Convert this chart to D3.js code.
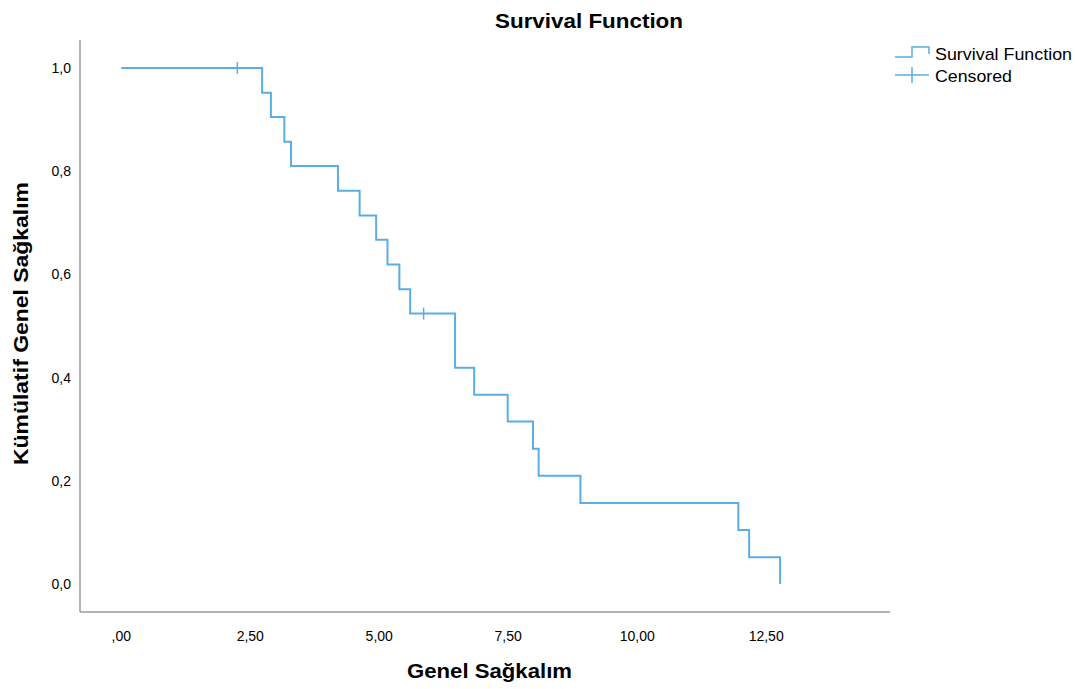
<!DOCTYPE html>
<html>
<head>
<meta charset="utf-8">
<script src="https://d3js.org/d3.v7.min.js"></script>
<style>
  body { margin: 0; background: #fff; }
  text { font-family: "Liberation Sans", Arial, sans-serif; fill: #000; }
</style>
</head>
<body>
<script>
// Kaplan-Meier estimate
const times    = [0, 2.73, 2.90, 3.16, 3.29, 4.20, 4.62, 4.94, 5.16, 5.39, 5.60, 6.47, 6.84, 7.49, 7.98, 8.09, 8.90, 11.96, 12.17, 12.77];
const survival = [1, 0.952, 0.905, 0.857, 0.810, 0.762, 0.714, 0.667, 0.619, 0.571, 0.524, 0.419, 0.367, 0.315, 0.262, 0.210, 0.157, 0.105, 0.052, 0];
const censoredTimes = [2.25, 5.86];
const censoredSurv  = [1, 0.524];
const xTicks = [0, 2.5, 5, 7.5, 10, 12.5];
const xTickLabels = [",00", "2,50", "5,00", "7,50", "10,00", "12,50"];
const yTicks = [0, 0.2, 0.4, 0.6, 0.8, 1.0];
const yTickLabels = ["0,0", "0,2", "0,4", "0,6", "0,8", "1,0"];

const width = 1075, height = 689;
const lineColor = "#5aaee3";
const axisColor = "#9a9a9a";

const svg = d3.select("body").append("svg")
    .attr("width", width)
    .attr("height", height);

const x = d3.scaleLinear().domain([-0.8, 14.9]).range([80, 890]);
const y = d3.scaleLinear().domain([-0.054, 1.054]).range([612, 40]);

// axes (no tick marks, just labels)
svg.append("line")
    .attr("x1", x(-0.8)).attr("x2", x(-0.8))
    .attr("y1", y(1.054)).attr("y2", y(-0.054))
    .attr("stroke", axisColor).attr("stroke-width", 1.5);
svg.append("line")
    .attr("x1", x(-0.8)).attr("x2", x(14.9))
    .attr("y1", y(-0.054)).attr("y2", y(-0.054))
    .attr("stroke", axisColor).attr("stroke-width", 1.5);

svg.append("g").selectAll("text")
    .data(xTicks)
    .join("text")
    .attr("x", d => x(d))
    .attr("y", 641)
    .attr("text-anchor", "middle")
    .style("font-size", "14px")
    .text((d, i) => xTickLabels[i]);

svg.append("g").selectAll("text")
    .data(yTicks)
    .join("text")
    .attr("x", 71)
    .attr("y", d => y(d) + 5)
    .attr("text-anchor", "end")
    .style("font-size", "14px")
    .text((d, i) => yTickLabels[i]);

// survival step line
const pts = times.map((t, i) => [t, survival[i]]);
const line = d3.line()
    .x(d => x(d[0]))
    .y(d => y(d[1]))
    .curve(d3.curveStepAfter);

svg.append("path")
    .datum(pts)
    .attr("d", line)
    .attr("fill", "none")
    .attr("stroke", lineColor)
    .attr("stroke-width", 2);

// censored marks
svg.append("g").selectAll("line")
    .data(censoredTimes)
    .join("line")
    .attr("x1", d => x(d)).attr("x2", d => x(d))
    .attr("y1", (d, i) => y(censoredSurv[i]) - 6)
    .attr("y2", (d, i) => y(censoredSurv[i]) + 6)
    .attr("stroke", lineColor)
    .attr("stroke-width", 1.5);

// titles
svg.append("text")
    .attr("x", 495).attr("y", 28)
    .attr("textLength", 188).attr("lengthAdjust", "spacingAndGlyphs")
    .style("font-size", "20px").style("font-weight", "bold")
    .text("Survival Function");

svg.append("text")
    .attr("x", 407).attr("y", 678)
    .attr("textLength", 165).attr("lengthAdjust", "spacingAndGlyphs")
    .style("font-size", "21px").style("font-weight", "bold")
    .text("Genel Sağkalım");

svg.append("text")
    .attr("transform", "translate(28,465) rotate(-90)")
    .attr("textLength", 283).attr("lengthAdjust", "spacingAndGlyphs")
    .style("font-size", "21px").style("font-weight", "bold")
    .text("Kümülatif Genel Sağkalım");

// legend
const lg = svg.append("g");
lg.append("path")
    .attr("d", "M895,57 H912 V47 H929 V54")
    .attr("fill", "none")
    .attr("stroke", lineColor)
    .attr("stroke-width", 1.5);
lg.append("text")
    .attr("x", 935).attr("y", 60)
    .attr("textLength", 137).attr("lengthAdjust", "spacingAndGlyphs")
    .style("font-size", "17px")
    .text("Survival Function");
lg.append("line")
    .attr("x1", 895).attr("x2", 929)
    .attr("y1", 75).attr("y2", 75)
    .attr("stroke", lineColor).attr("stroke-width", 1.5);
lg.append("line")
    .attr("x1", 912).attr("x2", 912)
    .attr("y1", 67).attr("y2", 83)
    .attr("stroke", lineColor).attr("stroke-width", 1.5);
lg.append("text")
    .attr("x", 935).attr("y", 82)
    .attr("textLength", 77).attr("lengthAdjust", "spacingAndGlyphs")
    .style("font-size", "17px")
    .text("Censored");
</script>
</body>
</html>
